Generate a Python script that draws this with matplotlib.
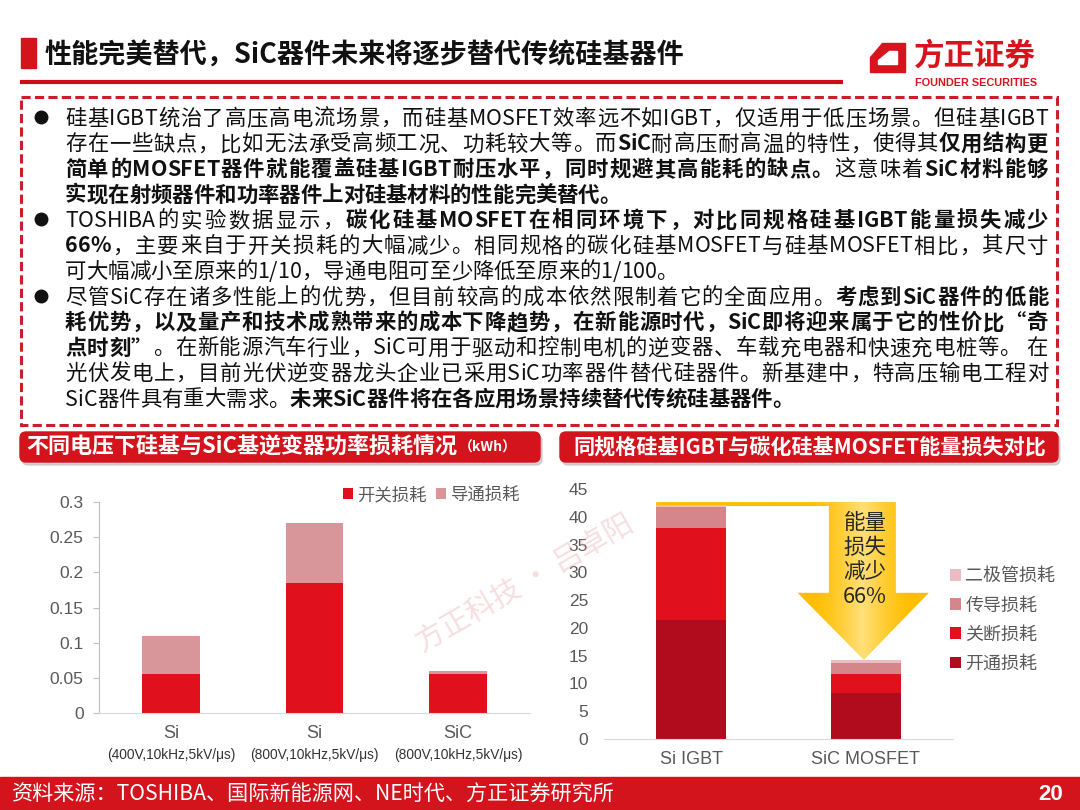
import matplotlib
matplotlib.use("Agg")
import matplotlib.pyplot as plt
import matplotlib.patches as mpatches
import matplotlib.transforms as mtransforms
from matplotlib.colors import LinearSegmentedColormap
from matplotlib.font_manager import findfont, FontProperties
from matplotlib.ft2font import FT2Font
import numpy as np

CJK = ['Noto Sans CJK SC', 'DejaVu Sans']
LAT = ['Liberation Sans', 'Noto Sans CJK SC', 'DejaVu Sans']
plt.rcParams['font.family'] = CJK

# ---- data: left chart (kWh)
left_cats = ['Si', 'Si', 'SiC']
left_conds = ['(400V,10kHz,5kV/μs)', '(800V,10kHz,5kV/μs)', '(800V,10kHz,5kV/μs)']
switch_loss = [0.055, 0.185, 0.055]
conduct_loss = [0.055, 0.085, 0.005]
left_yticks = [0, 0.05, 0.1, 0.15, 0.2, 0.25, 0.3]
left_ylabels = ['0', '0.05', '0.1', '0.15', '0.2', '0.25', '0.3']

# ---- data: right chart
right_cats = ['Si IGBT', 'SiC MOSFET']
turn_on = [21.4, 8.2]
turn_off = [16.5, 3.5]
conduction = [3.9, 1.9]
diode = [0.3, 0.6]
right_yticks = [0, 5, 10, 15, 20, 25, 30, 35, 40, 45]

# ---- text block (segments: text, bold)
para_lines = [
    [("硅基IGBT统治了高压高电流场景，而硅基MOSFET效率远不如IGBT，仅适用于低压场景。但硅基IGBT", False)],
    [("存在一些缺点，比如无法承受高频工况、功耗较大等。而", False), ("SiC", True),
     ("耐高压耐高温的特性，使得其", False), ("仅用结构更", True)],
    [("简单的MOSFET器件就能覆盖硅基IGBT耐压水平，同时规避其高能耗的缺点。", True),
     ("这意味着", False), ("SiC材料能够", True)],
    [("实现在射频器件和功率器件上对硅基材料的性能完美替代。", True)],
    [("TOSHIBA的实验数据显示，", False), ("碳化硅基MOSFET在相同环境下，对比同规格硅基IGBT能量损失减少", True)],
    [("66%", True), ("，主要来自于开关损耗的大幅减少。相同规格的碳化硅基MOSFET与硅基MOSFET相比，其尺寸", False)],
    [("可大幅减小至原来的1/10，导通电阻可至少降低至原来的1/100。", False)],
    [("尽管SiC存在诸多性能上的优势，但目前较高的成本依然限制着它的全面应用。", False), ("考虑到SiC器件的低能", True)],
    [("耗优势，以及量产和技术成熟带来的成本下降趋势，在新能源时代，SiC即将迎来属于它的性价比“奇", True)],
    [("点时刻”", True), ("。在新能源汽车行业，SiC可用于驱动和控制电机的逆变器、车载充电器和快速充电桩等。 在", False)],
    [("光伏发电上，目前光伏逆变器龙头企业已采用SiC功率器件替代硅器件。新基建中，特高压输电工程对", False)],
    [("SiC器件具有重大需求。", False), ("未来SiC器件将在各应用场景持续替代传统硅基器件。", True)],
]
last_lines = [3, 6, 11]
bullet_lines = [0, 4, 7]

RED = '#D3141D'

fig = plt.figure(figsize=(10.8, 8.1), dpi=100)
bg = fig.add_axes([0, 0, 1, 1])
bg.set_xlim(0, 1080)
bg.set_ylim(810, 0)
bg.axis('off')


def box(x0, y0, x1, y1):
    return [x0 / 1080, 1 - y1 / 810, (x1 - x0) / 1080, (y1 - y0) / 810]


_fonts = {}


def adv(s, size, bold=False, family='Noto Sans CJK SC'):
    key = (family, bold)
    if key not in _fonts:
        path = findfont(FontProperties(family=family, weight='bold' if bold else 'normal'))
        _fonts[key] = FT2Font(path)
    f = _fonts[key]
    f.set_size(size, 100)
    return [f.load_char(ord(c)).linearHoriAdvance / 65536 for c in s]


def fit(s, bold, width, family='Noto Sans CJK SC'):
    return width / sum(adv(s, 10, bold, family)) * 10


# ---- title
bg.add_patch(mpatches.Rectangle((21, 38), 15, 30, color=RED))
bg.text(45, 56, "性能完美替代，SiC器件未来将逐步替代传统硅基器件", fontsize=19.5,
        fontweight='bold', va='center', ha='left', color='#111111')
bg.plot([20, 843], [82, 82], color='#C8101A', lw=3, solid_capstyle='butt')

# logo
bg.add_patch(mpatches.Polygon([(882, 43), (905, 43), (905, 72), (870, 72), (870, 57)], color='#D7141E'))
bg.add_patch(mpatches.Polygon([(889, 51), (897, 51), (897, 64), (878, 64), (878, 60)], color='white'))
bg.text(914, 56, "方正证券", fontsize=fit("方正证券", True, 122), fontweight='bold',
        color='#D7141E', va='center', ha='left')
bg.text(915, 83, "FOUNDER SECURITIES", fontsize=fit("FOUNDER SECURITIES", True, 122, 'Liberation Sans'),
        family=LAT, fontweight='bold', color='#D7141E', va='center', ha='left')

# ---- dashed text box
bg.add_patch(mpatches.Rectangle((21, 97), 1036, 328, fill=False, edgecolor='#C8202A',
                                lw=2.2, linestyle=(0, (3, 1.4))))

TEXT_X0, TEXT_X1 = 65, 1048
BODY = 15.4
for i, segs in enumerate(para_lines):
    yb = 125 + 25.5 * i
    chars = []
    for t, b in segs:
        chars += list(zip(t, [b] * len(t), adv(t, BODY, b)))
    natural = sum(c[2] for c in chars)
    # extra space only in gaps touching a CJK character, latin words stay tight
    gaps = [0 if (chars[k][0].isascii() and chars[k + 1][0].isascii()) else 1
            for k in range(len(chars) - 1)] + [0]
    extra = 0 if i in last_lines else (TEXT_X1 - TEXT_X0 - natural) / max(sum(gaps), 1)
    x = TEXT_X0
    for (c, b, a), g in zip(chars, gaps):
        if c != ' ':
            bg.text(x, yb, c, fontsize=BODY, fontweight='bold' if b else 'normal',
                    va='baseline', ha='left', color='#111111')
        x += a + extra * g
    if i in bullet_lines:
        bg.plot(41, yb - 8, 'o', color='#111111', markersize=9)

# ---- chart banners
for x0, x1 in [(20, 540), (560, 1058)]:
    bg.add_patch(mpatches.FancyBboxPatch((x0 + 2, 435), x1 - x0, 30,
                                         boxstyle='round,pad=0,rounding_size=6', color='#BBBBBB', alpha=0.6))
    bg.add_patch(mpatches.FancyBboxPatch((x0, 432), x1 - x0, 30,
                                         boxstyle='round,pad=0,rounding_size=6', color=RED))
t1 = "不同电压下硅基与SiC基逆变器功率损耗情况"
s1 = fit(t1, True, 432)
bg.text(26, 447, t1, fontsize=s1, fontweight='bold', color='white', va='center', ha='left')
bg.text(459, 448, "（kWh）", fontsize=10, fontweight='bold', color='white', va='center', ha='left')
t2 = "同规格硅基IGBT与碳化硅基MOSFET能量损失对比"
bg.text(573, 447, t2, fontsize=fit(t2, True, 473), fontweight='bold', color='white', va='center', ha='left')

# ---- footer
bg.add_patch(mpatches.Rectangle((0, 777), 1080, 33, color=RED))
ft = "资料来源：TOSHIBA、国际新能源网、NE时代、方正证券研究所"
bg.text(12, 795, ft, fontsize=fit(ft, False, 603), color='white', va='center', ha='left')
bg.text(1063, 795, "20", fontsize=16, fontweight='bold', color='white', va='center', ha='right',
        family=LAT)

# ---- left chart
ax1 = fig.add_axes(box(99, 502, 530, 713))
ax1.patch.set_alpha(0)
xl = np.arange(len(left_cats))
ax1.bar(xl, switch_loss, 0.4, color='#E0101C', label='开关损耗', zorder=2)
ax1.bar(xl, conduct_loss, 0.4, bottom=switch_loss, color='#D9969A', label='导通损耗', zorder=2)
ax1.set_xlim(-0.5, 2.5)
ax1.set_ylim(0, 0.3)
ax1.set_yticks(left_yticks)
ax1.set_yticklabels(left_ylabels, family=LAT)
ax1.set_xticks([])
ax1.tick_params(axis='y', length=4, color='#BFBFBF', labelsize=12.5, labelcolor='#595959', pad=7)
for s in ['top', 'right']:
    ax1.spines[s].set_visible(False)
ax1.spines['left'].set_color('#BFBFBF')
ax1.spines['bottom'].set_color('#D9D9D9')
tr1 = mtransforms.blended_transform_factory(ax1.transData, bg.transData)
for i in range(len(left_cats)):
    ax1.text(xl[i], 733, left_cats[i], transform=tr1, ha='center', va='center', fontsize=13,
             color='#595959', family=LAT, clip_on=False)
    ax1.text(xl[i], 755, left_conds[i], transform=tr1, ha='center', va='center', fontsize=9.9,
             color='#333333', family=LAT, clip_on=False)
ax1.legend(loc='center right', bbox_to_anchor=(520, 495), bbox_transform=bg.transData, ncol=2,
           frameon=False, fontsize=12.5, handlelength=0.6, handleheight=0.6, handletextpad=0.25,
           columnspacing=0.5, labelcolor='#595959', borderpad=0, borderaxespad=0)

# ---- right chart
ax2 = fig.add_axes(box(604, 489, 953, 739))
ax2.patch.set_alpha(0)
xr = np.arange(len(right_cats))
b1 = np.array(turn_on)
b2 = b1 + np.array(turn_off)
b3 = b2 + np.array(conduction)
total = b3 + np.array(diode)
ax2.bar(xr, turn_on, 0.4, color='#B00C1E', label='开通损耗', zorder=2)
ax2.bar(xr, turn_off, 0.4, bottom=b1, color='#E0101C', label='关断损耗', zorder=2)
ax2.bar(xr, conduction, 0.4, bottom=b2, color='#D4868B', label='传导损耗', zorder=2)
ax2.bar(xr, diode, 0.4, bottom=b3, color='#EBBDC2', label='二极管损耗', zorder=2)

# reduction arrow from the Si IGBT total down to the SiC MOSFET total
top = total[0] + 0.5
tip = total[1] + 0.1
arrow_xy = [(-0.2, top), (1.171, top), (1.171, 26.3), (1.36, 26.3), (0.989, tip),
            (0.611, 26.3), (0.789, 26.3), (0.789, top - 0.65), (-0.2, top - 0.65)]
arrow = mpatches.Polygon(arrow_xy, closed=True, facecolor='#FFC000', edgecolor='none',
                         zorder=1, clip_on=False)
ax2.add_patch(arrow)
gx = np.linspace(-0.2, 1.36, 300)
gy = np.linspace(tip, top, 200)
GX, GY = np.meshgrid(gx, gy)
glow = np.clip(1 - np.abs(GX - 0.98) / 0.3, 0, 1) ** 1.5
cmap = LinearSegmentedColormap.from_list('arrow', ['#FFBE00', '#FFE07A'])
im = ax2.imshow(glow, extent=(-0.2, 1.36, tip, top), origin='lower', aspect='auto',
                cmap=cmap, vmin=0, vmax=1, zorder=1.1, interpolation='bilinear')
im.set_clip_path(arrow)
ax2.set_xlim(-0.5, 1.5)
ax2.set_ylim(0, 45)
for j, s in enumerate(["能量", "损失", "减少", "66%"]):
    ax2.text(865, 523 + 24.7 * j, s, transform=bg.transData, ha='center', va='center',
             fontsize=15.5, color='#262626', zorder=5)

ax2.set_yticks(right_yticks)
ax2.set_yticklabels([str(v) for v in right_yticks], family=LAT)
ax2.set_xticks([])
ax2.tick_params(axis='y', length=0, labelsize=12.5, labelcolor='#595959', pad=11.5)
for s in ['top', 'right', 'left']:
    ax2.spines[s].set_visible(False)
ax2.spines['bottom'].set_color('#D9D9D9')
tr2 = mtransforms.blended_transform_factory(ax2.transData, bg.transData)
for i in range(len(right_cats)):
    ax2.text(xr[i], 760, right_cats[i], transform=tr2, ha='center', va='center', fontsize=13,
             color='#595959', family=LAT, clip_on=False)

h, l = ax2.get_legend_handles_labels()
ax2.legend(h[::-1], l[::-1], loc='center left', bbox_to_anchor=(950, 620), bbox_transform=bg.transData,
           frameon=False, fontsize=13, handlelength=0.6, handleheight=0.6, handletextpad=0.25,
           labelspacing=0.62, labelcolor='#595959', borderpad=0, borderaxespad=0)

# watermark
fig.text(525 / 1080, 1 - 585 / 810, "方正科技 · 吕卓阳", rotation=30, fontsize=21,
         color='#E8A0A0', alpha=0.35, ha='center', va='center', zorder=10)

fig.savefig("out.png", dpi=100)
